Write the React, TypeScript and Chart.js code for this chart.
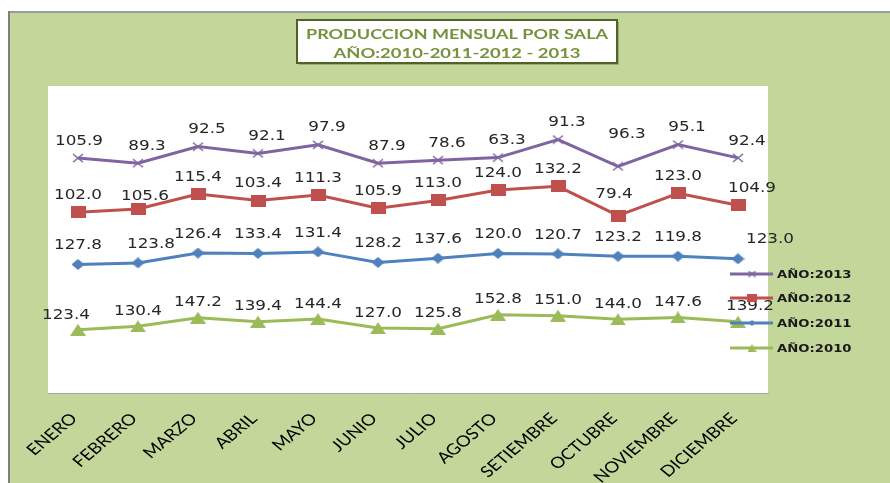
import React, { useEffect, useRef } from 'react';
import { Chart, registerables } from 'chart.js';

Chart.register(...registerables);

// ---- data ----
const months = ['ENERO', 'FEBRERO', 'MARZO', 'ABRIL', 'MAYO', 'JUNIO', 'JULIO', 'AGOSTO', 'SETIEMBRE', 'OCTUBRE', 'NOVIEMBRE', 'DICIEMBRE'];
const serie2010 = [123.4, 130.4, 147.2, 139.4, 144.4, 127.0, 125.8, 152.8, 151.0, 144.0, 147.6, 139.2];
const serie2011 = [127.8, 123.8, 126.4, 133.4, 131.4, 128.2, 137.6, 120.0, 120.7, 123.2, 119.8, 123.0];
const serie2012 = [102.0, 105.6, 115.4, 103.4, 111.3, 105.9, 113.0, 124.0, 132.2, 79.4, 123.0, 104.9];
const serie2013 = [105.9, 89.3, 92.5, 92.1, 97.9, 87.9, 78.6, 63.3, 91.3, 96.3, 95.1, 92.4];
const seriesNames = ['AÑO:2010', 'AÑO:2011', 'AÑO:2012', 'AÑO:2013'];
const titleLines = ['PRODUCCION MENSUAL POR SALA', 'AÑO:2010-2011-2012 - 2013'];
const yMin = 0;
const yMax = 600;

// ---- styles ----
const colors = ['#9BBB59', '#4F81BD', '#C0504D', '#8064A2'];
const labelDy = [-15, -19, -17, -17];
const labelTweaks: Record<string, [number, number]> = {
  '0-0': [-12, 0],
  '0-11': [12, 0],
  '1-1': [13, 0],
  '1-11': [32, 0],
  '2-1': [7, 4],
  '2-11': [14, 0],
  '2-9': [-13, -4],
  '3-0': [1, 0],
  '3-9': [0, -15],
};

function makeMarker(kind: string, w: number, h: number, color: string) {
  const c = document.createElement('canvas');
  c.width = w;
  c.height = h;
  const g = c.getContext('2d')!;
  g.fillStyle = color;
  g.strokeStyle = color;
  g.beginPath();
  if (kind === 'square') {
    g.fillRect(0, 0, w, h);
  } else if (kind === 'diamond') {
    g.moveTo(w / 2, 0);
    g.lineTo(w, h / 2);
    g.lineTo(w / 2, h);
    g.lineTo(0, h / 2);
    g.closePath();
    g.fill();
  } else if (kind === 'triangle') {
    g.moveTo(w / 2, 0);
    g.lineTo(w, h);
    g.lineTo(0, h);
    g.closePath();
    g.fill();
  } else {
    g.lineWidth = 1.6;
    g.moveTo(1, 1);
    g.lineTo(w - 1, h - 1);
    g.moveTo(w - 1, 1);
    g.lineTo(1, h - 1);
    g.stroke();
  }
  return c;
}

export default function App() {
  const ref = useRef<HTMLCanvasElement | null>(null);

  useEffect(() => {
    document.body.style.margin = '0';
    const canvas = ref.current;
    if (!canvas) return;

    const kinds = ['triangle', 'diamond', 'square', 'x'];
    const bigSizes = [[16, 12], [13, 11], [15, 12], [12, 10]];
    const smallSizes = [[9, 8], [7, 6], [10, 8], [9, 7]];
    const bigMarkers = kinds.map((k, i) => makeMarker(k, bigSizes[i][0], bigSizes[i][1], colors[i]));
    const smallMarkers = kinds.map((k, i) => makeMarker(k, smallSizes[i][0], smallSizes[i][1], colors[i]));
    const allSeries = [serie2010, serie2011, serie2012, serie2013];

    const bgPlugin = {
      id: 'bg',
      beforeDraw(chart: any) {
        const { ctx, width, height, chartArea } = chart;
        ctx.save();
        ctx.fillStyle = '#ffffff';
        ctx.fillRect(0, 0, width, height);
        ctx.fillStyle = '#C4D79B';
        ctx.fillRect(8, 11, width - 8, height - 11);
        ctx.fillStyle = '#9A9A9A';
        ctx.fillRect(8, 11, width - 8, 2);
        ctx.fillStyle = '#7F7F7F';
        ctx.fillRect(8, 11, 2, height - 11);
        ctx.fillStyle = '#ffffff';
        ctx.fillRect(chartArea.left, chartArea.top, chartArea.right - chartArea.left, chartArea.bottom - chartArea.top);

        // title box
        const bx = 297, by = 20, bw = 320, bh = 43;
        ctx.fillStyle = 'rgba(80,90,60,0.35)';
        ctx.fillRect(bx + 2, by + 2, bw, bh);
        ctx.fillStyle = '#ffffff';
        ctx.fillRect(bx, by, bw, bh);
        ctx.strokeStyle = '#4F6228';
        ctx.lineWidth = 2;
        ctx.strokeRect(bx, by, bw, bh);
        ctx.fillStyle = '#76923C';
        ctx.font = 'bold 14px Lato';
        ctx.textAlign = 'center';
        ctx.textBaseline = 'middle';
        const targets = [302, 247];
        const ys = [34, 53];
        titleLines.forEach((t, i) => {
          const w = ctx.measureText(t).width;
          ctx.save();
          ctx.translate(bx + bw / 2, ys[i]);
          ctx.scale(targets[i] / w, 1);
          ctx.fillText(t, 0, 0);
          ctx.restore();
        });
        ctx.restore();
      },
    };

    const labelPlugin = {
      id: 'valueLabels',
      afterDatasetsDraw(chart: any) {
        const ctx = chart.ctx;
        ctx.save();
        ctx.font = '14px "DejaVu Sans"';
        ctx.textAlign = 'center';
        ctx.textBaseline = 'middle';
        ctx.fillStyle = '#262626';
        chart.data.datasets.forEach((ds: any, di: number) => {
          const meta = chart.getDatasetMeta(di);
          meta.data.forEach((pt: any, i: number) => {
            const text = Number(ds.data[i]).toFixed(1);
            let dx = text.length === 4 ? 9 : 0;
            let dy = labelDy[di];
            const tw = labelTweaks[`${di}-${i}`];
            if (tw) {
              dx += tw[0];
              dy += tw[1];
            }
            ctx.save();
            ctx.translate(pt.x + dx, pt.y + dy);
            ctx.scale(1.2, 1);
            ctx.fillText(text, 0, 0);
            ctx.restore();
          });
        });
        ctx.restore();
      },
    };

    const overlayPlugin = {
      id: 'overlay',
      afterDraw(chart: any) {
        const ctx = chart.ctx;
        const xScale = chart.scales.x;
        const yAxisBottom = chart.chartArea.bottom;
        ctx.save();
        // category labels
        ctx.font = '15.5px Lato';
        ctx.textAlign = 'right';
        ctx.textBaseline = 'middle';
        ctx.fillStyle = '#000000';
        months.forEach((m, i) => {
          const x = xScale.getPixelForValue(i);
          ctx.save();
          ctx.translate(x - 4, yAxisBottom + 23);
          ctx.scale(1.2, 1);
          ctx.rotate(-Math.PI / 4);
          ctx.fillText(m, 0, 0);
          ctx.restore();
        });

        // legend
        const rows = [348, 323, 298, 274];
        ctx.font = 'bold 11px "DejaVu Sans"';
        ctx.textAlign = 'left';
        for (let di = 3; di >= 0; di--) {
          const y = rows[di];
          ctx.strokeStyle = colors[di];
          ctx.lineWidth = 3;
          ctx.beginPath();
          ctx.moveTo(730, y);
          ctx.lineTo(773, y);
          ctx.stroke();
          const mk = smallMarkers[di];
          ctx.drawImage(mk, 752 - mk.width / 2, y - mk.height / 2);
          ctx.save();
          ctx.translate(777, y + 1);
          ctx.scale(1.2, 1);
          ctx.fillStyle = '#1a1a1a';
          ctx.fillText(seriesNames[di], 0, 0);
          ctx.restore();
        }
        ctx.restore();
      },
    };

    const chart = new Chart(canvas, {
      type: 'line',
      data: {
        labels: months,
        datasets: allSeries.map((s, i) => ({
          label: seriesNames[i],
          data: s,
          borderColor: colors[i],
          backgroundColor: colors[i],
          borderWidth: 3,
          tension: 0,
          fill: false,
          pointStyle: bigMarkers[i],
          pointRadius: 6,
        })),
      },
      options: {
        animation: false,
        responsive: false,
        devicePixelRatio: 1,
        layout: { padding: { left: 48, right: 122, top: 86, bottom: 0 } },
        scales: {
          x: {
            type: 'category',
            offset: true,
            grid: { display: false },
            ticks: { display: false },
            border: { display: true, color: '#A6A6A6', width: 1 },
            afterFit: (scale: any) => {
              scale.height = 90;
            },
          },
          y: {
            display: false,
            stacked: true,
            min: yMin,
            max: yMax,
          },
        },
        plugins: {
          legend: { display: false },
          title: { display: false },
          tooltip: { enabled: false },
        },
      },
      plugins: [bgPlugin, labelPlugin, overlayPlugin],
    });

    return () => {
      chart.destroy();
    };
  }, []);

  return <canvas ref={ref} width={890} height={483} style={{ display: 'block' }} />;
}
